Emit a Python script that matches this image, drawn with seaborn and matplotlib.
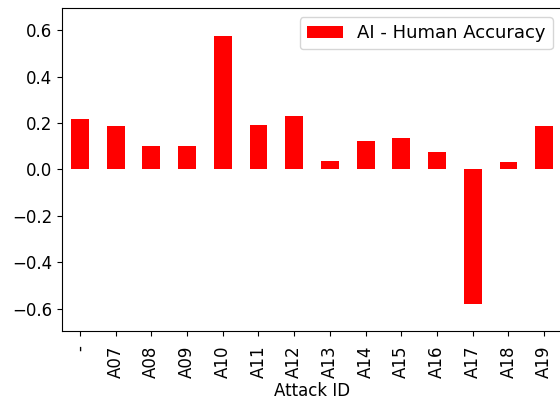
import matplotlib
matplotlib.use("Agg")
import matplotlib.pyplot as plt
import seaborn as sns
import pandas as pd

attack_ids = ["-", "A07", "A08", "A09", "A10", "A11", "A12",
              "A13", "A14", "A15", "A16", "A17", "A18", "A19"]
ai_minus_human = [0.217, 0.186, 0.103, 0.103, 0.576, 0.191, 0.231,
                  0.038, 0.123, 0.136, 0.077, -0.579, 0.033, 0.186]

df = pd.DataFrame({"Attack ID": attack_ids, "AI - Human Accuracy": ai_minus_human})

fig = plt.figure(figsize=(5.6, 4.03), dpi=100)
ax = fig.add_axes([0.1107, 0.1787, 0.893, 0.8015])

sns.barplot(data=df, x="Attack ID", y="AI - Human Accuracy", color="red",
            saturation=1, width=0.5, linewidth=0, label="AI - Human Accuracy", ax=ax)

ax.set_xlim(-0.5, len(attack_ids) - 0.5)
ax.set_ylim(-0.695, 0.695)
ax.set_ylabel("")
ax.set_xlabel("Attack ID", fontsize=12, labelpad=3)
ax.tick_params(axis="x", labelrotation=90, labelsize=12, pad=7)
ax.tick_params(axis="y", labelsize=12)
ax.legend(loc="upper right", fontsize=13)

fig.savefig("out.png", dpi=100)
